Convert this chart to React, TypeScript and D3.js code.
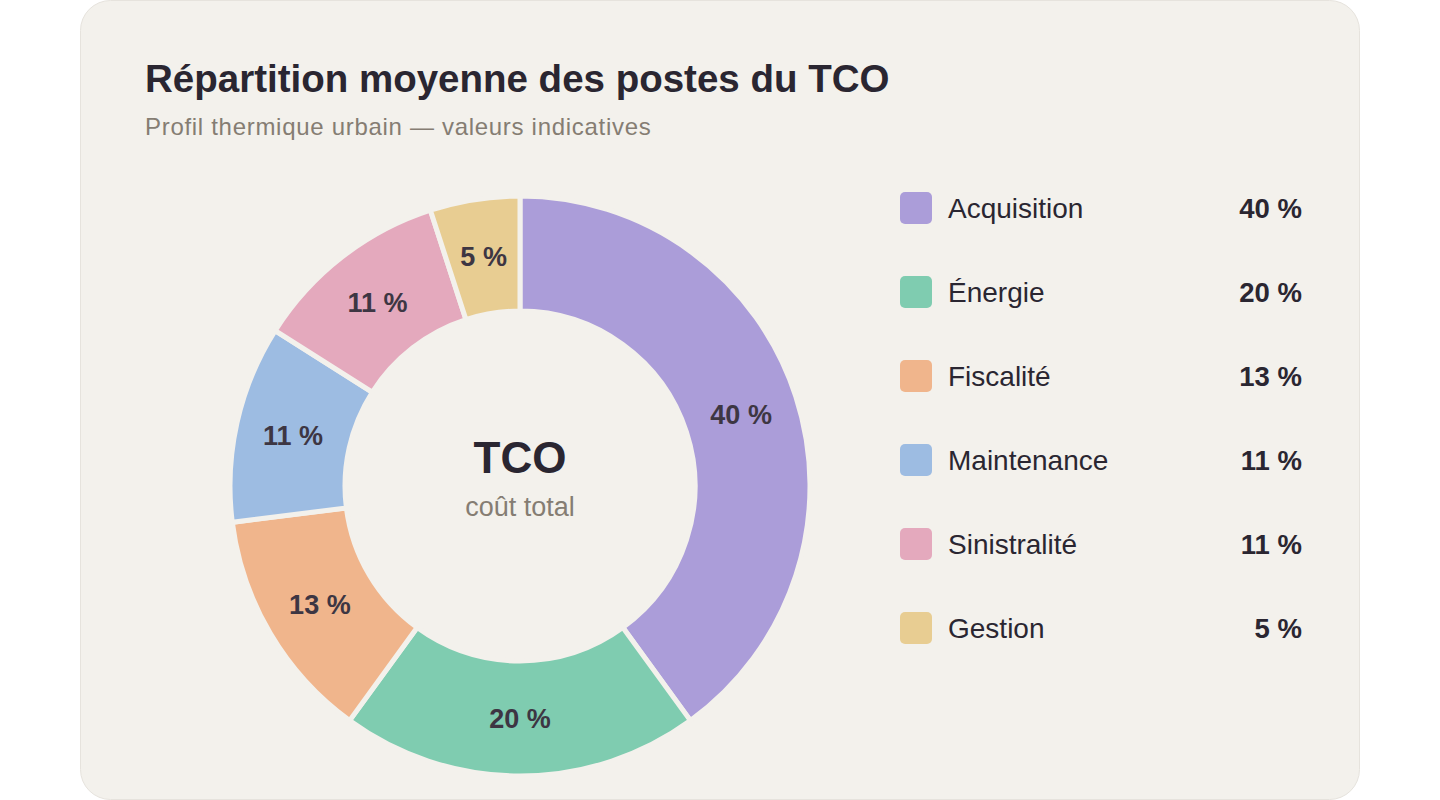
import { useEffect, useRef } from "react";
import * as d3 from "d3";

const categories = ["Acquisition", "Énergie", "Fiscalité", "Maintenance", "Sinistralité", "Gestion"];
const shares = [40, 20, 13, 11, 11, 5];
const colors = ["#ab9dd9", "#7fccb0", "#f0b58c", "#9dbce2", "#e4a9bd", "#e8cd92"];

const title = "Répartition moyenne des postes du TCO";
const subtitle = "Profil thermique urbain — valeurs indicatives";
const centerTitle = "TCO";
const centerSub = "coût total";

const FONT = "'Liberation Sans', Arial, Helvetica, sans-serif";
const BG = "#f3f1ec";

export default function App() {
  const svgRef = useRef<SVGSVGElement>(null);

  useEffect(() => {
    if (!svgRef.current) return;
    const width = 1440;
    const height = 800;
    const svg = d3.select(svgRef.current);
    svg.selectAll("*").remove();

    svg.attr("font-family", FONT);

    // carte
    svg
      .append("rect")
      .attr("x", 80.5)
      .attr("y", 0.5)
      .attr("width", 1279)
      .attr("height", 799)
      .attr("rx", 30)
      .attr("fill", BG)
      .attr("stroke", "#e6e3dd");

    svg
      .append("text")
      .attr("x", 145)
      .attr("y", 92)
      .attr("font-size", 38.5)
      .attr("font-weight", 700)
      .attr("fill", "#2a2631")
      .text(title);

    svg
      .append("text")
      .attr("x", 145)
      .attr("y", 135)
      .attr("font-size", 24)
      .attr("letter-spacing", 0.7)
      .attr("fill", "#857d73")
      .text(subtitle);

    // donut
    const cx = 520;
    const cy = 486;
    const data = categories.map((name, i) => ({ name, value: shares[i], color: colors[i] }));
    const pie = d3
      .pie<{ name: string; value: number; color: string }>()
      .sort(null)
      .value((d) => d.value);
    const arcs = pie(data);
    const arc = d3
      .arc<d3.PieArcDatum<{ name: string; value: number; color: string }>>()
      .innerRadius(175)
      .outerRadius(290);

    const g = svg.append("g").attr("transform", `translate(${cx},${cy})`);
    g.selectAll("path")
      .data(arcs)
      .join("path")
      .attr("d", arc)
      .attr("fill", (d) => d.data.color)
      .attr("stroke", BG)
      .attr("stroke-width", 5);

    g.selectAll("text.lbl")
      .data(arcs)
      .join("text")
      .attr("class", "lbl")
      .attr("transform", (d) => {
        const [x, y] = arc.centroid(d);
        return `translate(${x},${y})`;
      })
      .attr("text-anchor", "middle")
      .attr("dy", "0.35em")
      .attr("font-size", 27)
      .attr("font-weight", 700)
      .attr("fill", "#3d3643")
      .text((d) => `${d.data.value} %`);

    g.append("text")
      .attr("text-anchor", "middle")
      .attr("y", -13)
      .attr("font-size", 44)
      .attr("font-weight", 700)
      .attr("fill", "#2a2631")
      .text(centerTitle);

    g.append("text")
      .attr("text-anchor", "middle")
      .attr("y", 30)
      .attr("font-size", 27)
      .attr("fill", "#857d73")
      .text(centerSub);

    // légende
    const y = d3.scalePoint<string>().domain(categories).range([208, 628]);
    const rows = svg
      .append("g")
      .selectAll("g")
      .data(data)
      .join("g")
      .attr("transform", (d) => `translate(0,${y(d.name)})`);

    rows
      .append("rect")
      .attr("x", 900)
      .attr("y", -16)
      .attr("width", 32)
      .attr("height", 32)
      .attr("rx", 5)
      .attr("fill", (d) => d.color);

    rows
      .append("text")
      .attr("x", 948)
      .attr("y", 10)
      .attr("font-size", 28)
      .attr("fill", "#2a2631")
      .text((d) => d.name);

    rows
      .append("text")
      .attr("x", 1302)
      .attr("y", 10)
      .attr("text-anchor", "end")
      .attr("font-size", 27.5)
      .attr("font-weight", 700)
      .attr("fill", "#2a2631")
      .text((d) => `${d.value} %`);

    svg.attr("viewBox", `0 0 ${width} ${height}`);
  }, []);

  return (
    <div style={{ position: "fixed", left: 0, top: 0, width: 1440, height: 800, background: "#ffffff" }}>
      <svg ref={svgRef} width={1440} height={800}></svg>
    </div>
  );
}
